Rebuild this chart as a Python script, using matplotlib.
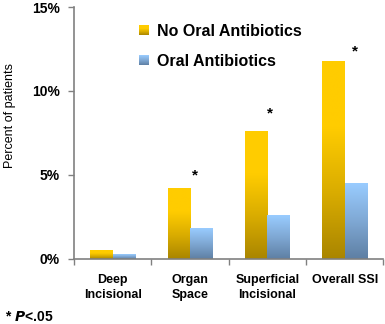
import numpy as np
import matplotlib
matplotlib.use("Agg")
import matplotlib.pyplot as plt
from matplotlib.colors import LinearSegmentedColormap
from matplotlib.patches import Rectangle
from matplotlib.legend_handler import HandlerBase

plt.rcParams['font.family'] = ['Liberation Sans', 'DejaVu Sans']

categories = ["Deep\nIncisional", "Organ\nSpace", "Superficial\nIncisional", "Overall SSI"]
no_oral = [0.5, 4.2, 7.6, 11.8]
oral = [0.25, 1.8, 2.6, 4.5]
significant = [False, True, True, True]
series_names = ["No Oral Antibiotics", "Oral Antibiotics"]
yticks = [0, 5, 10, 15]
ytick_labels = ["0%", "5%", "10%", "15%"]

yellow_cmap = LinearSegmentedColormap.from_list("y", ["#A98500", "#D9AC00", "#FFCC00", "#FFCC00"])
blue_cmap = LinearSegmentedColormap.from_list("b", ["#5E7FA3", "#7FA8D4", "#99CCFF"])

fig = plt.figure(figsize=(3.85, 3.24), dpi=100)
ax = fig.add_axes([0.192, 0.202, 0.804, 0.776])

x = np.arange(len(categories))
w = 0.29
b1 = ax.bar(x - w / 2, no_oral, w, color="none", edgecolor="none")
b2 = ax.bar(x + w / 2, oral, w, color="none", edgecolor="none")

grad = np.linspace(0, 1, 256).reshape(-1, 1)
for bars, cmap in ((b1, yellow_cmap), (b2, blue_cmap)):
    for p in bars:
        x0, y0 = p.get_x(), p.get_y()
        ax.imshow(grad, cmap=cmap, origin="lower", aspect="auto",
                  extent=(x0, x0 + p.get_width(), y0, y0 + p.get_height()),
                  zorder=2, interpolation="bilinear")

# significance stars
star_dx = [0, 0.07, 0.03, 0.13]
star_dy = [0, 0.75, 1.05, 0.55]
for i, sig in enumerate(significant):
    if sig:
        ax.text(x[i] + star_dx[i], no_oral[i] + star_dy[i], "*", ha="center", va="center",
                fontsize=11, fontweight="bold")

ax.set_xlim(-0.5, len(categories) - 0.5)
ax.set_ylim(0, 15)
ax.set_yticks(yticks)
ax.set_yticklabels(ytick_labels, fontsize=10, fontweight="bold")
ax.set_xticks(x)
ax.set_xticklabels(categories, fontsize=9, fontweight="bold", linespacing=1.35)
ax.set_xticks(np.arange(-0.5, len(categories)), minor=True)
ax.tick_params(axis="x", which="major", length=0, pad=11)
ax.tick_params(axis="x", which="minor", length=4, direction="out", color="#808080", width=1)
ax.tick_params(axis="y", length=4, direction="out", color="#808080", width=1, pad=6)
for s in ("top", "right"):
    ax.spines[s].set_visible(False)
for s in ("left", "bottom"):
    ax.spines[s].set_color("#808080")
    ax.spines[s].set_linewidth(1.2)
ax.set_ylabel("Percent of patients", fontsize=9)
ax.yaxis.set_label_coords(-0.187, 0.57)


class GradHandler(HandlerBase):
    def __init__(self, cmap):
        super().__init__()
        self.cmap = cmap

    def create_artists(self, legend, orig_handle, xdescent, ydescent, width, height, fontsize, trans):
        arts = []
        n = 10
        for k in range(n):
            r = Rectangle((-xdescent, -ydescent + height * k / n), width, height / n + 0.2,
                          facecolor=self.cmap((k + 0.5) / n), edgecolor="none", transform=trans)
            arts.append(r)
        return arts


h1 = Rectangle((0, 0), 1, 1)
h2 = Rectangle((0, 0), 1, 1)
ax.legend([h1, h2], series_names, loc="upper left", bbox_to_anchor=(0.19, 0.96),
          frameon=False, prop={"size": 11.5, "weight": "bold"},
          handler_map={h1: GradHandler(yellow_cmap), h2: GradHandler(blue_cmap)},
          handlelength=0.6, handleheight=0.6, handletextpad=0.55, labelspacing=0.95,
          borderaxespad=0)

fig.text(0.013, 0.0, "* $\\bfit{P}$<.05", fontsize=10, fontweight="bold", va="bottom")

fig.savefig("out.png", dpi=100)
